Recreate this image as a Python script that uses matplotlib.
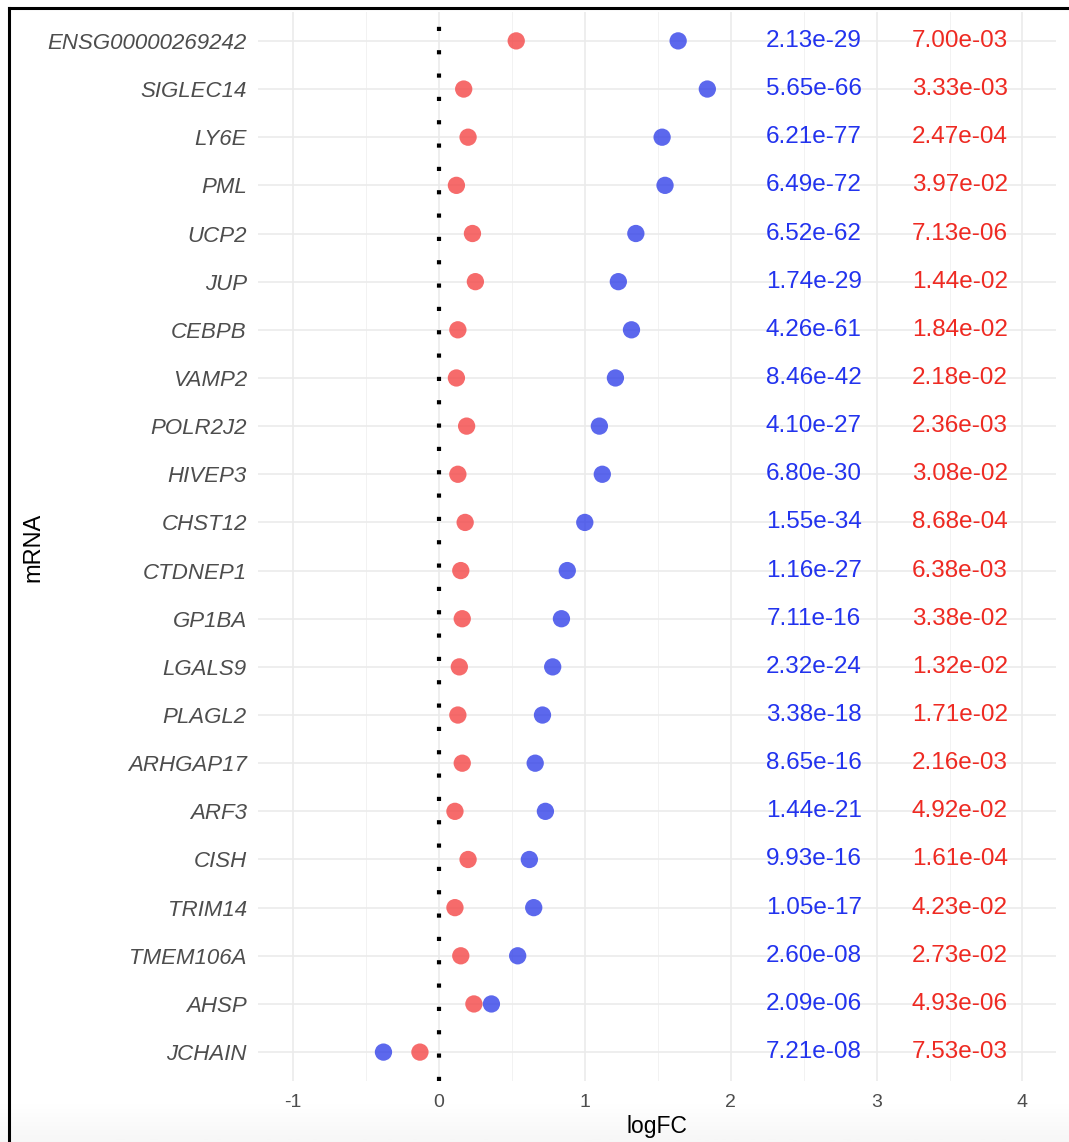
import numpy as np
import matplotlib.pyplot as plt
from matplotlib.lines import Line2D

genes = ['ENSG00000269242', 'SIGLEC14', 'LY6E', 'PML', 'UCP2', 'JUP', 'CEBPB',
         'VAMP2', 'POLR2J2', 'HIVEP3', 'CHST12', 'CTDNEP1', 'GP1BA', 'LGALS9',
         'PLAGL2', 'ARHGAP17', 'ARF3', 'CISH', 'TRIM14', 'TMEM106A', 'AHSP', 'JCHAIN']

# logFC, blue series
blue_fc = [1.64, 1.84, 1.53, 1.55, 1.35, 1.23, 1.32, 1.21, 1.10, 1.12, 1.00,
           0.88, 0.84, 0.78, 0.71, 0.66, 0.73, 0.62, 0.65, 0.54, 0.36, -0.38]
# logFC, red series
red_fc = [0.53, 0.17, 0.20, 0.12, 0.23, 0.25, 0.13, 0.12, 0.19, 0.13, 0.18,
          0.15, 0.16, 0.14, 0.13, 0.16, 0.11, 0.20, 0.11, 0.15, 0.24, -0.13]

blue_p = ['2.13e-29', '5.65e-66', '6.21e-77', '6.49e-72', '6.52e-62', '1.74e-29',
          '4.26e-61', '8.46e-42', '4.10e-27', '6.80e-30', '1.55e-34', '1.16e-27',
          '7.11e-16', '2.32e-24', '3.38e-18', '8.65e-16', '1.44e-21', '9.93e-16',
          '1.05e-17', '2.60e-08', '2.09e-06', '7.21e-08']
red_p = ['7.00e-03', '3.33e-03', '2.47e-04', '3.97e-02', '7.13e-06', '1.44e-02',
         '1.84e-02', '2.18e-02', '2.36e-03', '3.08e-02', '8.68e-04', '6.38e-03',
         '3.38e-02', '1.32e-02', '1.71e-02', '2.16e-03', '4.92e-02', '1.61e-04',
         '4.23e-02', '2.73e-02', '4.93e-06', '7.53e-03']

blue_text_x = 2.57
red_text_x = 3.57

plt.rcParams['font.family'] = ['Liberation Sans', 'DejaVu Sans']
plt.rcParams['axes.unicode_minus'] = False

W, H = 1069, 1142
fig = plt.figure(figsize=(W / 100, H / 100), dpi=100)
fig.patch.set_facecolor('white')

# light shading at the bottom edge
bg = fig.add_axes([0, 0, 1, 40 / H], zorder=-5)
grad = np.linspace(0, 1, 50).reshape(-1, 1)
bg.imshow(grad, aspect='auto', cmap='Greys', vmin=0, vmax=14, extent=[0, 1, 0, 1], origin='upper')
bg.axis('off')

ax = fig.add_axes([258 / W, 1 - 1081 / H, (1056 - 258) / W, (1081 - 12) / H])
ax.set_facecolor('white')
for s in ax.spines.values():
    s.set_visible(False)

n = len(genes)
y = np.arange(n)[::-1]

ax.set_xticks([-1, 0, 1, 2, 3, 4])
ax.set_xticks(np.arange(-1.5, 4.5, 0.5), minor=True)
ax.set_yticks(y)
ax.set_yticklabels(genes, fontstyle='italic')
ax.set_xlim(-1.24, 4.23)
ax.set_ylim(-0.6, n - 1 + 0.6)
ax.grid(True, which='major', color='#ebebeb', lw=1.2, zorder=0)
ax.grid(True, which='minor', axis='x', color='#f2f2f2', lw=0.7, zorder=0)
ax.set_axisbelow(True)
ax.tick_params(which='both', length=0)
ax.tick_params(axis='y', labelsize=16, labelcolor='#4d4d4d', pad=8)
ax.tick_params(axis='x', labelsize=14, labelcolor='#4d4d4d', pad=9.5)

ax.axvline(0, color='black', lw=3, linestyle=(0, (1, 4.6)), zorder=1)

ax.scatter(red_fc, y, s=155, color='#f44646', alpha=0.8, edgecolors='none', zorder=3)
ax.scatter(blue_fc, y, s=155, color='#2e3de8', alpha=0.78, edgecolors='none', zorder=4)

for yi, bp, rp in zip(y, blue_p, red_p):
    ax.text(blue_text_x, yi, bp, color='#2233ee', fontsize=17.5, ha='center', va='center')
    ax.text(red_text_x, yi, rp, color='#ee2a22', fontsize=17.5, ha='center', va='center')

ax.set_xlabel('logFC', fontsize=16.5, color='black', labelpad=3)
fig.text(33 / W, 1 - 547 / H, 'mRNA', rotation=90, fontsize=17, ha='center', va='center')

# screenshot frame on left and top
fig.add_artist(Line2D([9 / W, 9 / W], [0, 1 - 8 / H], color='black', lw=2.2, transform=fig.transFigure))
fig.add_artist(Line2D([9 / W, 1], [1 - 8 / H, 1 - 8 / H], color='black', lw=2.2, transform=fig.transFigure))

fig.savefig('out.png', dpi=100)
